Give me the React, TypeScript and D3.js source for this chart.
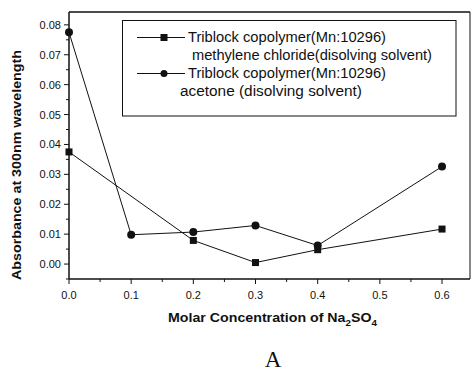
import React from "react";
import * as d3 from "d3";

const concentrationsMC = [0.0, 0.2, 0.3, 0.4, 0.6];
const absorbanceMC = [0.0375, 0.0079, 0.0005, 0.0048, 0.0117];
const concentrationsAc = [0.0, 0.1, 0.2, 0.3, 0.4, 0.6];
const absorbanceAc = [0.0775, 0.0098, 0.0107, 0.0129, 0.0062, 0.0326];
const xTicks = [0.0, 0.1, 0.2, 0.3, 0.4, 0.5, 0.6];
const yTicks = [0.0, 0.01, 0.02, 0.03, 0.04, 0.05, 0.06, 0.07, 0.08];
const legendLines = [
  "Triblock copolymer(Mn:10296)",
  "methylene chloride(disolving solvent)",
  "Triblock copolymer(Mn:10296)",
  "acetone (disolving solvent)",
];

const W = 472, H = 372;
const left = 69, right = 470, top = 12, bottom = 279;

export default function App() {
  const x = d3.scaleLinear().domain([0, 0.645]).range([left, right]);
  const y = d3.scaleLinear().domain([-0.005, 0.0843]).range([bottom, top]);
  const line = d3.line<[number, number]>().x(d => x(d[0])).y(d => y(d[1]));
  const mc: [number, number][] = concentrationsMC.map((c, i) => [c, absorbanceMC[i]]);
  const ac: [number, number][] = concentrationsAc.map((c, i) => [c, absorbanceAc[i]]);
  const xMinor = d3.range(0.05, 0.645, 0.1);
  const yMinor = d3.range(-0.005, 0.084, 0.01);
  const font = "Liberation Sans, Arial, sans-serif";
  const ink = "#111";
  const legendPos = [
    { x: 188, y: 42, len: 198 },
    { x: 192, y: 60, len: 240 },
    { x: 188, y: 78, len: 198 },
    { x: 180, y: 96, len: 182 },
  ];
  return (
    <svg width={W} height={H} style={{ position: "absolute", left: 0, top: 0, background: "#fff" }}>
      <rect x={0} y={0} width={W} height={H} fill="#fff" />
      {/* frame */}
      <line x1={left} x2={right} y1={top} y2={top} stroke={ink} strokeWidth={1.5} />
      <line x1={right} x2={right} y1={top} y2={bottom} stroke={ink} strokeWidth={1} />
      <line x1={left} x2={left} y1={top} y2={bottom} stroke={ink} strokeWidth={1.5} />
      <line x1={left} x2={right} y1={bottom} y2={bottom} stroke={ink} strokeWidth={1.5} />
      {/* x ticks */}
      {xTicks.map(t => (
        <g key={"xt" + t}>
          <line x1={x(t)} x2={x(t)} y1={bottom} y2={bottom + 5} stroke={ink} strokeWidth={1} />
          <text x={x(t)} y={299} textAnchor="middle" fontFamily={font} fontSize={11} fill={ink}>{t.toFixed(1)}</text>
        </g>
      ))}
      {xMinor.map(t => (
        <line key={"xm" + t} x1={x(t)} x2={x(t)} y1={bottom} y2={bottom + 3} stroke={ink} strokeWidth={1} />
      ))}
      {/* y ticks */}
      {yTicks.map(t => (
        <g key={"yt" + t}>
          <line x1={left - 5} x2={left} y1={y(t)} y2={y(t)} stroke={ink} strokeWidth={1} />
          <text x={61} y={y(t) + 4} textAnchor="end" fontFamily={font} fontSize={11} fill={ink}>{t.toFixed(2)}</text>
        </g>
      ))}
      {yMinor.map(t => (
        <line key={"ym" + t} x1={left - 3} x2={left} y1={y(t)} y2={y(t)} stroke={ink} strokeWidth={1} />
      ))}
      {/* series */}
      <path d={line(mc) || ""} fill="none" stroke={ink} strokeWidth={1} />
      <path d={line(ac) || ""} fill="none" stroke={ink} strokeWidth={1} />
      {mc.map((d, i) => (
        <rect key={"s" + i} x={x(d[0]) - 3.5} y={y(d[1]) - 3.5} width={7} height={7} fill={ink} />
      ))}
      {ac.map((d, i) => (
        <circle key={"c" + i} cx={x(d[0])} cy={y(d[1])} r={4} fill={ink} />
      ))}
      {/* legend */}
      <rect x={122.5} y={20.5} width={333.5} height={95.5} fill="#fff" stroke={ink} strokeWidth={1} />
      <line x1={137} x2={185} y1={37.5} y2={37.5} stroke={ink} strokeWidth={1} />
      <rect x={160.5} y={34} width={7} height={7} fill={ink} />
      <line x1={137} x2={185} y1={73.5} y2={73.5} stroke={ink} strokeWidth={1} />
      <circle cx={164} cy={73.5} r={3.5} fill={ink} />
      {legendLines.map((s, i) => (
        <text key={"lg" + i} x={legendPos[i].x} y={legendPos[i].y} textLength={legendPos[i].len} lengthAdjust="spacingAndGlyphs"
          fontFamily={font} fontSize={14} fill={ink}>{s}</text>
      ))}
      {/* axis titles */}
      <text transform={`translate(21,165) rotate(-90)`} textAnchor="middle" textLength={230} lengthAdjust="spacingAndGlyphs"
        fontFamily={font} fontWeight="bold" fontSize={13} fill={ink}>
        Absorbance at 300nm wavelength
      </text>
      <text x={168} y={322} textLength={209} lengthAdjust="spacingAndGlyphs" fontFamily={font} fontWeight="bold" fontSize={13} fill={ink}>
        Molar Concentration of Na<tspan dy={4} fontSize={9}>2</tspan><tspan dy={-4}>SO</tspan><tspan dy={4} fontSize={9}>4</tspan>
      </text>
      <text x={273} y={367} textAnchor="middle" fontFamily="Liberation Serif, Times New Roman, serif" fontSize={23} fill={ink}>A</text>
    </svg>
  );
}
